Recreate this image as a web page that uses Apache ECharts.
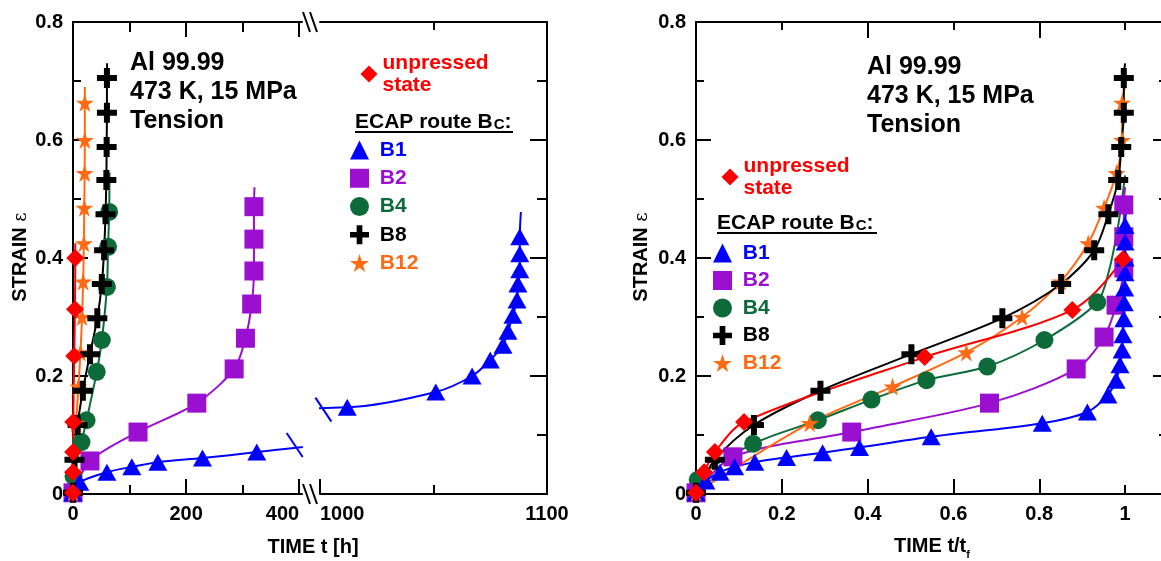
<!DOCTYPE html>
<html><head><meta charset="utf-8">
<script src="https://cdn.jsdelivr.net/npm/echarts@6/dist/echarts.min.js"></script>
<style>html,body{margin:0;padding:0;background:#fff}#c{width:1161px;height:561px}</style>
</head><body><div id="c"></div><script>
// ---------- DATA ----------
// Left panel: time t [h], strain
const unpressedLeft = [[0,0.002],[0.08,0.037],[0.18,0.071],[0.45,0.122],[2.1,0.234],[3.5,0.313],[4,0.40]];
const unpressedLeftTail = [[4.1,0.425]];
const b1Left = [[0,0.002],[12,0.02],[60,0.037],[104,0.046],[150,0.054],[229,0.061],[325,0.071],[1012,0.147],[1051,0.173],[1067,0.2],[1075,0.227],[1080.6,0.252],[1082.8,0.276],[1085,0.303],[1086.8,0.329],[1087.2,0.356],[1088,0.38],[1088,0.407],[1088,0.436]];
const b1LeftTail = [[1088.5,0.478]];
const b2Left = [[0,0.002],[30,0.056],[115,0.105],[219,0.154],[285,0.212],[305,0.264],[316,0.322],[320,0.378],[320,0.432],[320,0.487]];
const b2LeftTail = [[321,0.52]];
const b4Left = [[0,0.002],[1,0.03],[15,0.088],[24,0.125],[42,0.207],[51,0.261],[60,0.351],[62,0.419],[64,0.478]];
const b4LeftTail = [[64.5,0.545]];
const b8Left = [[0,0.002],[2.6,0.058],[8.1,0.117],[17.4,0.175],[30,0.237],[43,0.298],[51,0.356],[55,0.413],[57.5,0.474],[59,0.532],[59.5,0.588],[60,0.646],[60,0.705]];
const b8LeftTail = [[60.3,0.73]];
const b12Left = [[0,0.002],[5.6,0.12],[9.6,0.182],[13.2,0.24],[16,0.30],[17.9,0.36],[19.2,0.425],[20,0.485],[20.6,0.544],[20.9,0.60],[20.9,0.663]];
const b12LeftTail = [[21,0.69]];
// B1 curve break marks (t [h], strain)
const b1BreakMarks = [[392,0.083],[1001.5,0.143]];

// Right panel: normalized time t/tf, strain
const unpressedRight = [[0,0.002],[0.019,0.037],[0.044,0.071],[0.112,0.122],[0.533,0.232],[0.877,0.312],[0.995,0.398]];
const unpressedRightTail = [[1.0,0.42]];
const b1Right = [[0,0.002],[0.023,0.022],[0.056,0.037],[0.09,0.046],[0.137,0.054],[0.211,0.062],[0.295,0.07],[0.381,0.079],[0.548,0.097],[0.807,0.12],[0.912,0.139],[0.96,0.168],[0.979,0.193],[0.988,0.219],[0.993,0.244],[0.995,0.27],[0.997,0.297],[0.998,0.324],[0.999,0.349],[1.0,0.375],[1.0,0.40],[1.0,0.427],[1.0,0.455]];
const b1RightTail = [[1.002,0.48]];
const b2Right = [[0,0.002],[0.086,0.063],[0.363,0.105],[0.684,0.154],[0.886,0.212],[0.951,0.266],[0.979,0.32],[0.997,0.383],[0.997,0.436],[0.997,0.49]];
const b2RightTail = [[1.0,0.52]];
const b4Right = [[0,0.002],[0.004,0.024],[0.133,0.085],[0.284,0.125],[0.409,0.16],[0.537,0.193],[0.679,0.216],[0.812,0.261],[0.935,0.325]];
const b4RightTail = [[0.963,0.38],[0.985,0.46],[1.0,0.54]];
const b8Right = [[0,0.002],[0.044,0.058],[0.135,0.117],[0.29,0.175],[0.502,0.237],[0.714,0.298],[0.851,0.356],[0.928,0.413],[0.961,0.474],[0.984,0.532],[0.991,0.588],[0.997,0.646],[0.997,0.705]];
const b8RightTail = [[1.0,0.73]];
const b12Right = [[0,0.002],[0.265,0.12],[0.458,0.182],[0.63,0.24],[0.76,0.30],[0.85,0.36],[0.914,0.425],[0.951,0.485],[0.98,0.544],[0.993,0.60],[0.993,0.663]];
const b12RightTail = [[1.0,0.69]];

// Tick labels
const leftXLabelsA = [0,200];
const leftXLabelsAEnd = [400];
const leftXLabelsBStart = [1000];
const leftXLabelsB = [1100];
const rightXLabels = [0,0.2,0.4,0.6,0.8,1];

// ---------- STYLE ----------
const FONT = 'Liberation Sans';
const C = {unpressed:'#ff0000', B1:'#0000ff', B2:'#9a0fd0', B4:'#0d6b3a', B8:'#000000', B12:'#ff6a13'};
const STAR = 'path://M50,0 L61,35 L98,35 L68,57 L79,91 L50,70 L21,91 L32,57 L2,35 L39,35 Z';
const CROSS = 'path://M35,0 H65 V35 H100 V65 H65 V100 H35 V65 H0 V35 H35 Z';
const SYM = {unpressed:['diamond',[18,18]], B1:['triangle',[19,17]], B2:['rect',[19,19]], B4:['circle',[18,18]], B8:[CROSS,[20,20]], B12:[STAR,[18,18]]};

const lbl = {fontFamily:FONT, fontWeight:'bold', fontSize:20, color:'#000'};
const blk = {color:'#000', width:2};

function xAx(grid, pos, min, max, ticks, len, labels, line, align){
  return {type:'value', gridIndex:grid, position:pos, min:min, max:max,
    axisLine:{show:line!==false, onZero:false, lineStyle:blk},
    axisTick:{show:ticks.length>0, inside:true, length:len, customValues:ticks, lineStyle:blk},
    axisLabel: labels ? Object.assign({show:true, customValues:labels, margin:10, hideOverlap:false, align:align||'center',
       formatter:v=>(v===0?'0':(Math.abs(v-1)<1e-9&&max<2?'1':String(v)))}, lbl) : {show:false},
    splitLine:{show:false}, minorTick:{show:false}};
}
function yAx(grid, pos, major, minor, labels){
  return {type:'value', gridIndex:grid, position:pos, min:0, max:0.8, interval:0.2,
    axisLine:{show:true, onZero:false, lineStyle:blk},
    axisTick:{show:true, inside:true, length:major, lineStyle:blk},
    minorTick:{show:true, splitNumber:2, length:minor, lineStyle:blk},
    axisLabel: labels ? Object.assign({show:true, margin:10, formatter:v=>(v===0?'0':v.toFixed(1))}, lbl) : {show:false},
    splitLine:{show:false}};
}

const xAxis = [
  xAx(0,'bottom',0,405,[0,200,400],15,leftXLabelsA),      //0
  xAx(0,'bottom',0,405,[100,300],9,null,false),          //1
  xAx(0,'top',0,405,[200,400],15,null),                  //2
  xAx(0,'top',0,405,[100,300],10,null,false),            //3
  xAx(1,'bottom',1000,1100,[1000],15,leftXLabelsB),      //4
  xAx(1,'bottom',1000,1100,[1050],9,null,false),         //5
  xAx(1,'top',1000,1100,[1050],8,null),                  //6
  xAx(2,'bottom',0,1.1,[0.2,0.4,0.6,0.8],15,rightXLabels), //7
  xAx(2,'bottom',0,1.1,[1.0],9,null,false),              //8
  xAx(2,'top',0,1.1,[0.4,0.8],16,null),                  //9
  xAx(2,'top',0,1.1,[0.2,0.6,1.0],8,null,false),         //10
  xAx(0,'bottom',0,405,[],0,leftXLabelsAEnd,false,'right'),   //11
  xAx(1,'bottom',1000,1100,[],0,leftXLabelsBStart,false,'left') //12
];
const yAxis = [
  yAx(0,'left',15,8,true),   //0
  yAx(1,'right',17,10,false),//1
  yAx(2,'left',15,8,true),   //2
  yAx(2,'right',15,9,false)  //3
];

function pair(name, markers, tail, xi, yi){
  const col = C[name];
  return [
    {type:'line', name:name+' fit', xAxisIndex:xi, yAxisIndex:yi, data:markers.concat(tail),
     showSymbol:false, symbol:'none', smooth:0.3, clip:true, z:2,
     lineStyle:{color:col, width:2}, itemStyle:{color:col}, silent:true, animation:false},
    {type:'scatter', name:name, xAxisIndex:xi, yAxisIndex:yi, data:markers, clip:true, z:3,
     symbol:SYM[name][0], symbolSize:SYM[name][1], itemStyle:{color:col, opacity:1}, animation:false}
  ];
}
const order = [
  ['B4', b4Left, b4LeftTail, b4Right, b4RightTail],
  ['B2', b2Left, b2LeftTail, b2Right, b2RightTail],
  ['B1', b1Left, b1LeftTail, b1Right, b1RightTail],
  ['B12', b12Left, b12LeftTail, b12Right, b12RightTail],
  ['B8', b8Left, b8LeftTail, b8Right, b8RightTail],
  ['unpressed', unpressedLeft, unpressedLeftTail, unpressedRight, unpressedRightTail]
];
let series = [];
order.forEach(o=>{ series = series.concat(pair(o[0], o[1], o[2], 0, 0)); });
series = series.concat(pair('B1', b1Left, b1LeftTail, 4, 1));
order.forEach(o=>{ series = series.concat(pair(o[0], o[3], o[4], 7, 2)); });

const legTxt = {fontFamily:FONT, fontWeight:'bold', fontSize:21, lineHeight:22};
function routeLegend(left, top, gap){
  return {left:left, top:top, padding:0, orient:'vertical', itemGap:gap, itemWidth:19, itemHeight:19,
    selectedMode:false, textStyle:legTxt, formatter:n=>' '+n,
    data:['B1','B2','B4','B8','B12'].map(n=>({name:n, icon:SYM[n][0], textStyle:{color:C[n]}, itemStyle:{color:C[n]}}))};
}
function unpLegend(left, top){
  return {left:left, top:top, padding:0, orient:'vertical', itemWidth:17, itemHeight:17, selectedMode:false,
    textStyle:legTxt, formatter:()=>'unpressed\nstate',
    data:[{name:'unpressed', icon:'diamond', textStyle:{color:C.unpressed}, itemStyle:{color:C.unpressed}}]};
}

const chart = echarts.init(document.getElementById('c'), null, {renderer:'canvas'});
chart.setOption({
  animation:false, backgroundColor:'#fff',
  textStyle:{fontFamily:FONT},
  grid:[
    {left:73, top:22, width:229, height:472, outerBoundsMode:'none', containLabel:false},
    {left:320, top:22, width:227, height:472, outerBoundsMode:'none', containLabel:false},
    {left:696, top:22, width:472, height:472, outerBoundsMode:'none', containLabel:false}
  ],
  xAxis:xAxis, yAxis:yAxis, series:series,
  legend:[unpLegend(360.5,52), routeLegend(350,139,6.25), unpLegend(721.5,155), routeLegend(713,242,5.5)]
});

// ---------- decorations ----------
const g = [];
const bold = s=>'bold '+s+'px "'+FONT+'"';
function note(x,y){
  g.push({type:'text', style:{x:x, y:y, text:'Al 99.99\n473 K, 15 MPa\nTension', font:bold(25), lineHeight:29, fill:'#000', align:'left', verticalAlign:'top'}, z:10});
}
note(130,49); note(867,52.5);
function header(x,yc,w){
  g.push({type:'text', style:{x:x, y:yc, text:'{a|ECAP route B}{c|C}{a|:}', verticalAlign:'middle', align:'left', fill:'#000',
    rich:{a:{font:bold(21), fill:'#000', lineHeight:22, verticalAlign:'bottom'}, c:{font:bold(15), fill:'#000', lineHeight:22, verticalAlign:'bottom', padding:[0,0,1,1]}}}, z:10});
  g.push({type:'line', shape:{x1:x, y1:yc+10, x2:x+w, y2:yc+10}, style:{stroke:'#000', lineWidth:2}, z:10});
}
header(355,122,158); header(717,223,160);
// axis titles
g.push({type:'text', style:{x:313, y:547, text:'TIME t [h]', font:bold(20), fill:'#000', align:'center', verticalAlign:'middle'}});
g.push({type:'text', style:{x:932, y:545, text:'{a|TIME t/t}{s|f}', align:'center', verticalAlign:'middle',
  rich:{a:{font:bold(20), fill:'#000', lineHeight:22, verticalAlign:'bottom'}, s:{font:bold(11), fill:'#000', lineHeight:22, verticalAlign:'bottom', padding:[0,0,-4,0]}}}});
function ytitle(x,y){
  g.push({type:'text', x:x, y:y, rotation:Math.PI/2, style:{x:0, y:0, text:'{a|STRAIN }{e|ε}', align:'center', verticalAlign:'middle',
    rich:{a:{font:bold(20), fill:'#000', lineHeight:22, verticalAlign:'bottom'}, e:{font:'18px "DejaVu Serif"', fill:'#000', lineHeight:22, verticalAlign:'bottom'}}}});
}
ytitle(19,257); ytitle(640,257);
// axis break marks on frame
[22,494].forEach(yc=>{
  [303,310].forEach(x0=>{
    g.push({type:'line', shape:{x1:x0, y1:yc-10, x2:x0+7, y2:yc+10}, style:{stroke:'#000', lineWidth:2}});
  });
});
// B1 curve break marks
const pA = chart.convertToPixel({xAxisIndex:0, yAxisIndex:0}, b1BreakMarks[0]);
const pB = chart.convertToPixel({xAxisIndex:4, yAxisIndex:1}, b1BreakMarks[1]);
[pA,pB].forEach(p=>{
  g.push({type:'line', shape:{x1:p[0]-8, y1:p[1]-12, x2:p[0]+8, y2:p[1]+12}, style:{stroke:C.B1, lineWidth:2}, z:10});
});
chart.setOption({graphic:g});
</script></body></html>
